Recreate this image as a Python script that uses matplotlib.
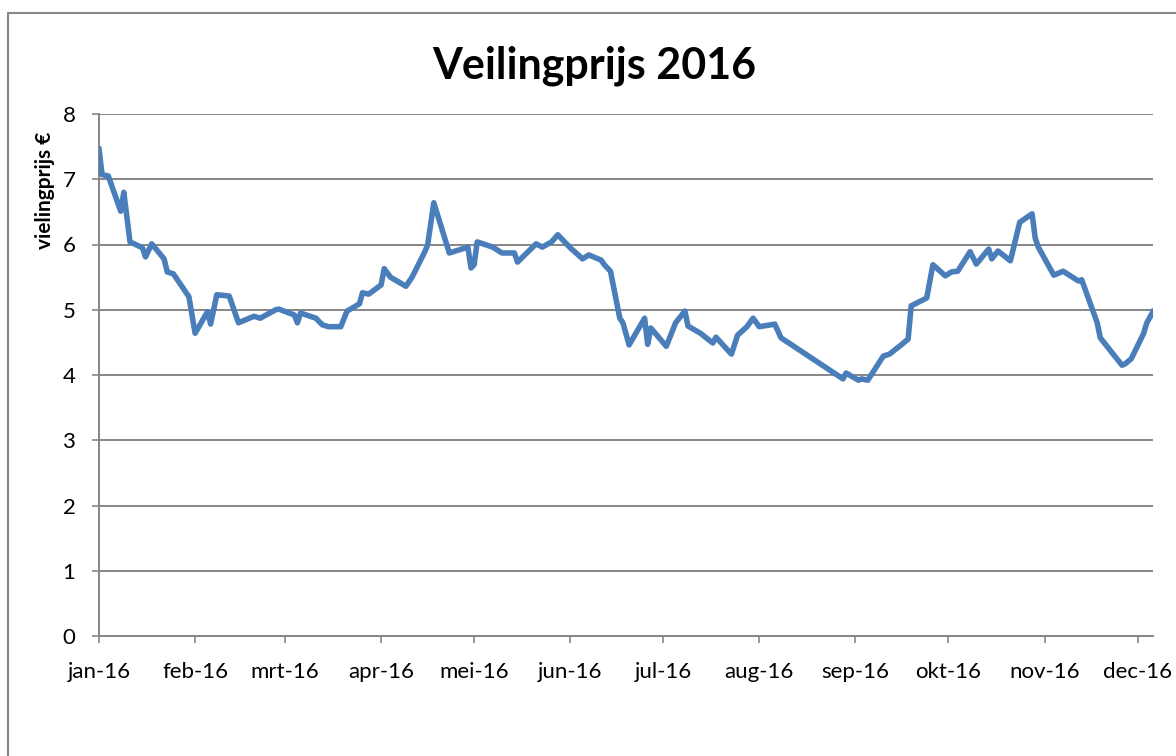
import matplotlib.pyplot as plt
import matplotlib.dates as mdates
from matplotlib.patches import Rectangle
import numpy as np
import pandas as pd

# day offsets from 1 jan 2016 and auction price
days = [0, 1, 3, 7, 8, 10, 14, 15, 17, 21, 22, 24, 29, 31, 35, 36, 38, 42, 45,
        50, 52, 57, 58, 63, 64, 65, 70, 72, 74, 78, 80, 84, 85, 87, 91, 92, 94,
        99, 101, 105, 106, 108, 113, 119, 120, 121, 122, 127, 130, 134, 135,
        138, 141, 143, 146, 148, 152, 156, 158, 162, 163, 165, 168, 169, 171,
        176, 177, 178, 183, 186, 189, 190, 194, 198, 199, 204, 206, 209, 211,
        213, 218, 220, 240, 241, 245, 246, 248, 253, 255, 259, 260, 261, 262,
        267, 269, 273, 275, 277, 281, 283, 287, 288, 290, 294, 297, 301, 302,
        303, 308, 311, 316, 317, 322, 323, 330, 331, 333, 337, 338, 340]
prices = [7.46, 7.07, 7.05, 6.51, 6.80, 6.04, 5.95, 5.81, 6.01, 5.78, 5.58,
          5.55, 5.20, 4.64, 4.97, 4.78, 5.23, 5.21, 4.80, 4.90, 4.87, 5.00,
          5.01, 4.92, 4.80, 4.95, 4.87, 4.77, 4.74, 4.74, 4.98, 5.09, 5.26,
          5.24, 5.38, 5.63, 5.50, 5.36, 5.50, 5.88, 5.99, 6.64, 5.87, 5.96,
          5.64, 5.69, 6.04, 5.96, 5.87, 5.87, 5.73, 5.87, 6.01, 5.96, 6.04,
          6.15, 5.95, 5.78, 5.84, 5.76, 5.69, 5.59, 4.87, 4.80, 4.46, 4.87,
          4.47, 4.72, 4.44, 4.80, 4.98, 4.75, 4.64, 4.49, 4.58, 4.32, 4.61,
          4.74, 4.87, 4.74, 4.78, 4.57, 3.94, 4.03, 3.92, 3.94, 3.92, 4.29,
          4.32, 4.47, 4.51, 4.55, 5.06, 5.18, 5.69, 5.52, 5.58, 5.59, 5.89,
          5.70, 5.93, 5.78, 5.90, 5.75, 6.34, 6.47, 6.10, 5.96, 5.53, 5.59,
          5.44, 5.46, 4.80, 4.57, 4.15, 4.17, 4.25, 4.64, 4.80, 4.97]
month_labels = ['jan-16', 'feb-16', 'mrt-16', 'apr-16', 'mei-16', 'jun-16',
                'jul-16', 'aug-16', 'sep-16', 'okt-16', 'nov-16', 'dec-16']

start = pd.Timestamp('2016-01-01')
dates = start + pd.to_timedelta(days, unit='D')
month_starts = pd.date_range('2016-01-01', periods=12, freq='MS')

plt.rcParams['font.family'] = ['Lato', 'DejaVu Sans']

fig = plt.figure(figsize=(11.76, 7.56), dpi=100)
fig.patches.append(Rectangle((8 / 1176, -0.1), 1.2, 1 - 13 / 756 + 0.1,
                             transform=fig.transFigure, fill=False,
                             edgecolor='#868686', lw=1.5))
ax = fig.add_axes([99 / 1176, 1 - 636 / 756, (1153 - 99) / 1176, (636 - 114) / 756])

ax.plot(dates, prices, color='#4a7ebb', lw=4.0, solid_joinstyle='round',
        zorder=3)

ax.set_ylim(0, 8)
ax.set_xlim(start, start + pd.Timedelta(days=340))
ax.set_yticks(range(0, 9))
ax.set_xticks(month_starts)
ax.set_xticklabels(month_labels)
ax.yaxis.grid(True, color='#868686', lw=1.4)
ax.set_axisbelow(True)

for s in ['top', 'right']:
    ax.spines[s].set_visible(False)
for s in ['left', 'bottom']:
    ax.spines[s].set_color('#868686')
    ax.spines[s].set_linewidth(1.4)
ax.tick_params(axis='both', colors='#868686', width=1.2, length=5,
               labelcolor='black', labelsize=16)
ax.tick_params(axis='x', pad=14)
ax.tick_params(axis='y', pad=12)

fig.text(594 / 1176, 1 - 66 / 756, 'Veilingprijs 2016', ha='center',
         va='center', fontsize=31, fontweight='bold')
fig.text(45 / 1176, 1 - 190 / 756, 'vielingprijs €', ha='center',
         va='center', rotation=90, fontsize=15, fontweight='bold')

fig.savefig('out.png', dpi=100)
